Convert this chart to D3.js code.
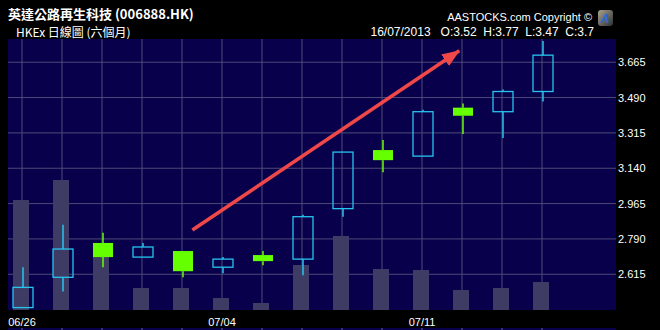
<!DOCTYPE html>
<html>
<head>
<meta charset="utf-8">
<script src="https://cdn.jsdelivr.net/npm/d3@7"></script>
<style>
  body { margin: 0; background: #000; }
  svg { display: block; }
  text { font-family: "Liberation Sans", Arial, sans-serif; fill: #fff; }
</style>
</head>
<body>
<script>
// daily data
let dates = ['06/26', '06/27', '06/28', '07/02', '07/03', '07/04', '07/05', '07/08', '07/09', '07/10', '07/11', '07/12', '07/15', '07/16'];
let open  = [2.45, 2.60, 2.77, 2.70, 2.73, 2.65, 2.71, 2.69, 2.94, 3.23, 3.20, 3.44, 3.42, 3.52];
let high  = [2.65, 2.86, 2.82, 2.77, 2.73, 2.70, 2.73, 2.91, 3.22, 3.28, 3.43, 3.46, 3.53, 3.77];
let low   = [2.45, 2.53, 2.65, 2.70, 2.60, 2.62, 2.66, 2.61, 2.90, 3.12, 3.20, 3.31, 3.29, 3.47];
let close = [2.55, 2.74, 2.70, 2.75, 2.63, 2.69, 2.68, 2.90, 3.22, 3.18, 3.42, 3.40, 3.52, 3.70];
let volume = [11.0, 13.0, 5.8, 2.2, 2.2, 1.2, 0.7, 4.5, 7.4, 4.1, 4.0, 2.0, 2.2, 2.8]; // millions of shares (est.)
let priceTicks = [2.615, 2.790, 2.965, 3.140, 3.315, 3.490, 3.665];
let dateLabels = ['06/26', '07/04', '07/11'];

let W = 660, H = 330;
let plot = { left: 8, right: 616, top: 39, bottom: 310 };

let svg = d3.select('body').append('svg').attr('width', W).attr('height', H);

svg.append('rect').attr('width', W).attr('height', H).attr('fill', '#000');

// header
svg.append('text').attr('x', 8).attr('y', 19)
  .style('font-family', '"Noto Sans CJK TC", sans-serif').style('font-weight', 'bold').style('font-size', '13px')
  .text('英達公路再生科技 (006888.HK)');
svg.append('text').attr('x', 16).attr('y', 37)
  .style('font-family', '"Noto Sans CJK TC", sans-serif').style('font-size', '12px')
  .text('HKEx 日線圖 (六個月)');
svg.append('text').attr('x', 592).attr('y', 21).attr('text-anchor', 'end')
  .style('font-size', '11px').text('AASTOCKS.com Copyright ©');
svg.append('text').attr('x', 594).attr('y', 36).attr('text-anchor', 'end')
  .style('font-size', '12px').style('white-space', 'pre')
  .text('16/07/2013   O:3.52  H:3.77  L:3.47  C:3.7');

// little logo
let grad = svg.append('defs').append('linearGradient').attr('id', 'logoGrad')
  .attr('x1', 0).attr('y1', 0).attr('x2', 1).attr('y2', 1);
grad.append('stop').attr('offset', '0%').attr('stop-color', '#a8a48c');
grad.append('stop').attr('offset', '100%').attr('stop-color', '#2e2e36');
svg.append('rect').attr('x', 598).attr('y', 10).attr('width', 15).attr('height', 16).attr('rx', 3).attr('fill', 'url(#logoGrad)');
svg.append('text').attr('x', 605).attr('y', 23).attr('text-anchor', 'middle')
  .style('font-size', '13px').style('font-weight', 'bold').style('font-style', 'italic')
  .style('fill', '#2a6ad0').text('A');

// plot background + bottom strip
svg.append('rect').attr('x', plot.left).attr('y', plot.top)
  .attr('width', plot.right - plot.left).attr('height', plot.bottom - plot.top).attr('fill', '#08004a');
svg.append('rect').attr('x', plot.left).attr('y', 328)
  .attr('width', plot.right - plot.left).attr('height', 2).attr('fill', '#08004a');

let x = d3.scaleBand().domain(dates).range([2, 562]).paddingInner(0);
let cx = d => x(d) + x.bandwidth() / 2;
let y = d3.scaleLinear().domain([2.438, 3.780]).range([plot.bottom, plot.top]);
let yVol = d3.scaleLinear().domain([0, 27.1]).range([plot.bottom, plot.top]);
let xi = d3.scaleLinear().domain([0, dates.length - 1]).range([cx(dates[0]), cx(dates[dates.length - 1])]);

// grid
svg.append('g').selectAll('line').data(priceTicks).enter().append('line')
  .attr('x1', plot.left).attr('x2', plot.right)
  .attr('y1', d => y(d)).attr('y2', d => y(d))
  .attr('stroke', '#4e4a78').attr('stroke-width', 1);
svg.append('g').selectAll('line').data(dates).enter().append('line')
  .attr('x1', d => cx(d)).attr('x2', d => cx(d))
  .attr('y1', plot.top).attr('y2', plot.bottom)
  .attr('stroke', '#4e4a78').attr('stroke-width', 1);

// ticks in the bottom strip
svg.append('g').selectAll('line').data(dates).enter().append('line')
  .attr('x1', d => cx(d)).attr('x2', d => cx(d))
  .attr('y1', 328).attr('y2', 330)
  .attr('stroke', '#6a6890');

// volume
svg.append('g').selectAll('rect').data(volume).enter().append('rect')
  .attr('x', (d, i) => cx(dates[i]) - 9)
  .attr('width', 16)
  .attr('y', d => yVol(d))
  .attr('height', d => plot.bottom - yVol(d))
  .attr('fill', '#3e3c64');

// candles
let candles = dates.map((d, i) => ({ d: d, o: open[i], h: high[i], l: low[i], c: close[i] }));
let cg = svg.append('g').selectAll('g').data(candles).enter().append('g')
  .attr('transform', d => 'translate(' + (cx(d.d) + 1) + ',0)');

cg.append('line').attr('x1', 0).attr('x2', 0)
  .attr('y1', d => y(d.h)).attr('y2', d => y(Math.max(d.o, d.c)))
  .attr('stroke', d => d.c >= d.o ? '#27c4ee' : '#66ff00').attr('stroke-width', 1.5);
cg.append('line').attr('x1', 0).attr('x2', 0)
  .attr('y1', d => y(Math.min(d.o, d.c))).attr('y2', d => y(d.l))
  .attr('stroke', d => d.c >= d.o ? '#27c4ee' : '#66ff00').attr('stroke-width', 1.5);
cg.append('rect')
  .attr('x', -10).attr('width', 20)
  .attr('y', d => y(Math.max(d.o, d.c)))
  .attr('height', d => Math.max(1, Math.abs(y(d.o) - y(d.c))))
  .attr('fill', d => d.c >= d.o ? 'none' : '#66ff00')
  .attr('stroke', d => d.c >= d.o ? '#27c4ee' : 'none')
  .attr('stroke-width', 1.3);

// axis labels
svg.append('g').selectAll('text').data(priceTicks).enter().append('text')
  .attr('x', 618).attr('y', d => y(d) + 4)
  .style('font-size', '11px')
  .text(d => d3.format('.3f')(d));
svg.append('g').selectAll('text').data(dateLabels).enter().append('text')
  .attr('x', d => cx(d)).attr('y', 326).attr('text-anchor', 'middle')
  .style('font-size', '11px')
  .text(d => d);

// trend arrow (in data coordinates: day index, price)
let arrowFrom = [4.26, 2.834], arrowTo = [10.93, 3.722];
svg.select('defs').append('marker').attr('id', 'head')
  .attr('markerUnits', 'userSpaceOnUse').attr('markerWidth', 18).attr('markerHeight', 14)
  .attr('refX', 17).attr('refY', 7).attr('orient', 'auto')
  .append('path').attr('d', 'M0,0 L18,7 L0,14 Z').attr('fill', '#f04848');
svg.append('line')
  .attr('x1', xi(arrowFrom[0])).attr('y1', y(arrowFrom[1]))
  .attr('x2', xi(arrowTo[0])).attr('y2', y(arrowTo[1]))
  .attr('stroke', '#f04848').attr('stroke-width', 3.5)
  .attr('marker-end', 'url(#head)');
</script>
</body>
</html>
